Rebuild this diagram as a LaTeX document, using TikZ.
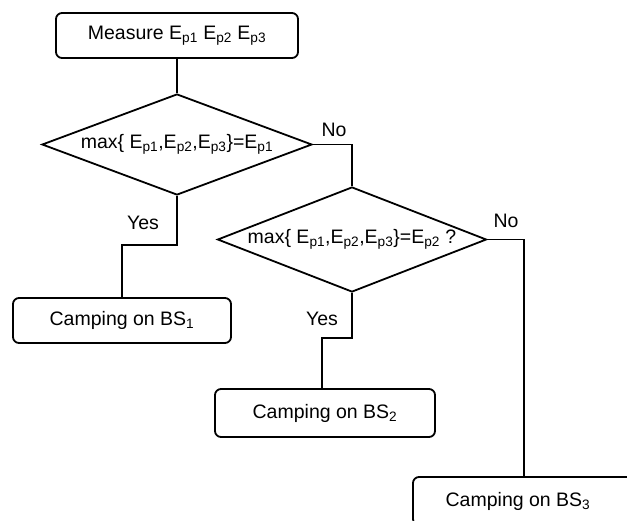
\documentclass[tikz,border=0pt]{standalone}
\usepackage{fontspec}
\setmainfont{Liberation Sans}
\usetikzlibrary{shapes.geometric}
\newcommand{\Ep}[1]{E\textsubscript{p#1}}
\begin{document}
\begin{tikzpicture}[x=1pt,y=-1pt,
  every node/.style={font=\fontsize{19.5}{22}\selectfont},
  procbox/.style={draw,line width=1.8pt,rounded corners=6pt,inner sep=0pt},
  decision/.style={draw,diamond,line width=1.8pt,inner sep=0pt,aspect=2.65},
  flow/.style={line width=1.8pt},
  lbl/.style={inner sep=1pt}]
  \useasboundingbox (0,0) rectangle (627,520);
  \clip (0,0) rectangle (627,520);

  % process steps
  \node[procbox,minimum width=242pt,minimum height=45pt] (meas) at (177,35.5)
    {Measure \Ep{1} \Ep{2} \Ep{3}};
  \node[procbox,minimum width=218pt,minimum height=45pt] (bs1) at (122,320.5)
    {Camping on BS\textsubscript{1}};
  \node[procbox,minimum width=220pt,minimum height=48pt] (bs2) at (325,413)
    {Camping on BS\textsubscript{2}};
  \node[procbox,minimum width=220pt,minimum height=48pt] (bs3) at (523,501)
    {Camping on BS\textsubscript{3}\hspace*{10pt}};

  % decisions
  \node[decision,minimum width=270pt,minimum height=101pt] (d1) at (177,144.5)
    {max\{ \Ep{1},\Ep{2},\Ep{3}\}=\Ep{1}};
  \node[decision,minimum width=269pt,minimum height=105pt] (d2) at (352,239.5)
    {max\{ \Ep{1},\Ep{2},\Ep{3}\}=\Ep{2} ?};

  % bend points
  \coordinate (y1) at (122,245);
  \coordinate (y2) at (322,338);

  % connectors
  \draw[flow] (meas.south) -- (d1.north);
  \draw[flow] (d1.east) -| (d2.north);
  \draw[flow] (d1.south) |- (y1) -- (bs1.north -| y1);
  \draw[flow] (d2.south) |- (y2) -- (bs2.north -| y2);
  \draw[flow] (d2.east) -| ([xshift=1pt]bs3.north);

  % branch labels
  \node[lbl] (no1) at (334,130) {No};
  \node[lbl] (yes1) at (143,223) {Yes};
  \node[lbl] (no2) at (506,221) {No};
  \node[lbl] (yes2) at (322,319) {Yes};
\end{tikzpicture}
\end{document}
